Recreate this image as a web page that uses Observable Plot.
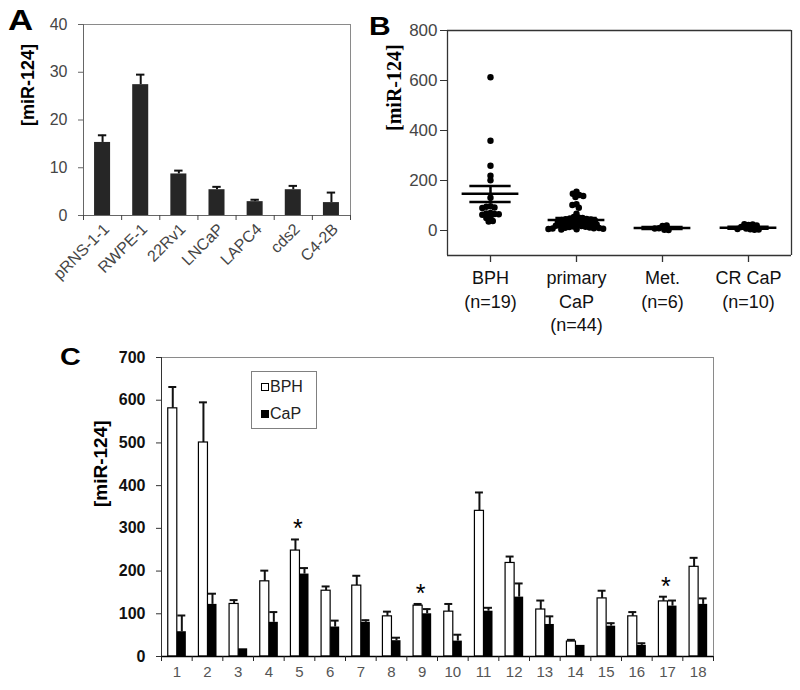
<!DOCTYPE html>
<html><head><meta charset="utf-8">
<script src="https://cdn.jsdelivr.net/npm/d3@7"></script>
<script src="https://cdn.jsdelivr.net/npm/@observablehq/plot@0.6"></script>
<style>
body{margin:0;background:#fff;}
#root{position:relative;width:800px;height:690px;font-family:Arial,"Liberation Sans",sans-serif;overflow:hidden;}
.panel{position:absolute;}
.letter{position:absolute;font-weight:bold;line-height:1;color:#000;transform:scaleX(1.2);transform-origin:left top;}
#legend{position:absolute;left:251px;top:371px;width:64px;height:56px;border:1px solid #808080;background:#fff;font-size:16px;color:#222;}
#legend .row{position:absolute;left:9px;height:18px;line-height:18px;white-space:nowrap;}
#legend .sq{display:inline-block;width:6px;height:6px;border:1px solid #000;margin-right:1px;vertical-align:1px;}
</style></head><body><div id="root"></div>
<script>
const FONT = 'Arial, "Liberation Sans", sans-serif';

// ---------- Panel A ----------
const cellLines = ["pRNS-1-1", "RWPE-1", "22Rv1", "LNCaP", "LAPC4", "cds2", "C4-2B"];
const cellValues = [15.3, 27.4, 8.7, 5.4, 2.9, 5.4, 2.7];
const cellErrTop = [16.8, 29.5, 9.4, 6.0, 3.3, 6.2, 4.8];
const aTicks = [0, 10, 20, 30, 40];

// ---------- Panel B ----------
const groups = ["BPH", "primary CaP", "Met.", "CR CaP"];
const groupLabels = ["BPH\n(n=19)", "primary\nCaP\n(n=44)", "Met.\n(n=6)", "CR CaP\n(n=10)"];
const bphValues = [613, 359, 259, 219, 201, 131, 97, 95, 92, 90, 70, 68, 66, 65, 63, 52, 50, 38, 36];
const primaryValues = [155, 147, 142, 138, 134, 105, 102, 91, 67,
  54, 52, 50, 48, 46, 45, 44, 42, 40, 38, 36, 35, 33, 31, 30, 28, 27, 25, 24, 22,
  20, 19, 18, 16, 15, 14, 12, 11, 10, 9, 8, 7, 6, 5, 4];
const metValues = [18, 9, 3, 2, 8, 20];
const crValues = [22, 25, 24, 14, 8, 5, 3, 4, 6, 20];
const groupMeans = [147, 42, 10, 11];
const groupSemLow = [114, 34, 6, 7];
const groupSemHigh = [178, 50, 14, 15];
const bTicks = [0, 200, 400, 600, 800];

// ---------- Panel C ----------
const pairNumbers = [1, 2, 3, 4, 5, 6, 7, 8, 9, 10, 11, 12, 13, 14, 15, 16, 17, 18];
const bphC = [581, 501, 123, 176, 248, 154, 166, 94, 119, 105, 341, 219, 110, 35, 136, 94, 129, 210];
const bphCErr = [631, 595, 132, 201, 274, 164, 189, 105, 123, 123, 384, 234, 131, 39, 154, 104, 140, 231];
const capC = [58, 122, 18, 80, 193, 69, 80, 37, 100, 36, 106, 139, 75, 26, 71, 26, 118, 122];
const capCErr = [96, 147, null, 104, 207, 84, 85, 44, 111, 51, 114, 171, 94, null, 78, 31, 131, 136];
const starPairs = [5, 9, 17];
const cTicks = [0, 100, 200, 300, 400, 500, 600, 700];

const root = document.getElementById("root");
function place(el, left, top) {
  const w = document.createElement("div");
  w.className = "panel"; w.style.left = left + "px"; w.style.top = top + "px";
  w.appendChild(el); root.appendChild(w);
}
function letter(t, left, top, size) {
  const d = document.createElement("div");
  d.className = "letter"; d.textContent = t;
  d.style.left = left + "px"; d.style.top = top + "px"; d.style.fontSize = size + "px";
  root.appendChild(d);
}

// Panel C plot (placed first so panels A/B, which may overlap it, stay on top)
const cRows = pairNumbers.map((n, i) => ({n, i, b: bphC[i], be: bphCErr[i], c: capC[i], ce: capCErr[i]}));
const stars = cRows.filter(d => starPairs.includes(d.n));
const plotC = Plot.plot({
  width: 800, height: 360, marginLeft: 161, marginRight: 87, marginTop: 27, marginBottom: 34,
  style: {fontFamily: FONT, background: "transparent"},
  x: {domain: [0, 18], axis: null},
  y: {domain: [0, 700], axis: null},
  marks: [
    Plot.ruleY([700], {stroke: "#8a8a8a"}),
    Plot.ruleX([18], {stroke: "#8a8a8a"}),
    Plot.ruleX(cRows, {x: d => d.i + 0.3675, y1: "b", y2: "be", stroke: "#111", strokeWidth: 2}),
    Plot.ruleY(cRows, {y: "be", x1: d => d.i + 0.3675 - 0.13, x2: d => d.i + 0.3675 + 0.13, stroke: "#111", strokeWidth: 2}),
    Plot.ruleX(cRows.filter(d => d.ce != null), {x: d => d.i + 0.6625, y1: "c", y2: "ce", stroke: "#111", strokeWidth: 2}),
    Plot.ruleY(cRows.filter(d => d.ce != null), {y: "ce", x1: d => d.i + 0.6625 - 0.13, x2: d => d.i + 0.6625 + 0.13, stroke: "#111", strokeWidth: 2}),
    Plot.rectY(cRows, {x1: d => d.i + 0.22, x2: d => d.i + 0.515, y1: 0, y2: "b", fill: "#fff", stroke: "#000", strokeWidth: 1.2}),
    Plot.rectY(cRows, {x1: d => d.i + 0.515, x2: d => d.i + 0.81, y1: 0, y2: "c", fill: "#000"}),
    Plot.ruleX([0], {stroke: "#333"}),
    Plot.ruleY([0], {stroke: "#000", strokeWidth: 1.3}),
    Plot.axisY({ticks: cTicks, tickSize: 5, tickPadding: 11, fontSize: 16, fontWeight: "bold", fill: "#111", stroke: "#333", label: null}),
    Plot.axisX({ticks: d3.range(0, 19), tickSize: 5, tickFormat: () => "", stroke: "#222", label: null}),
    Plot.text(cRows, {x: d => d.i + 0.5, frameAnchor: "bottom", text: d => String(d.n), dy: 20, fontSize: 15, fill: "#555"}),
    Plot.text(stars, {x: d => d.i + 0.45, y: "be", text: () => "*", dy: -10, fontSize: 25, fill: "#000"}),
    Plot.text(["[miR-124]"], {frameAnchor: "left", dx: -61, dy: 0, rotate: -90, fontWeight: "bold", fontSize: 19, fill: "#000"})
  ]
});
place(plotC, 0, 330);

// Panel A plot
const aData = cellLines.map((c, i) => ({c, i, v: cellValues[i], e: cellErrTop[i]}));
const plotA = Plot.plot({
  width: 360, height: 330, marginLeft: 83, marginRight: 10, marginTop: 24, marginBottom: 115,
  style: {fontFamily: FONT, background: "transparent"},
  x: {domain: [0, 7], axis: null},
  y: {domain: [0, 40], axis: null},
  marks: [
    Plot.ruleY([40], {stroke: "#8a8a8a"}),
    Plot.ruleX([7], {stroke: "#8a8a8a"}),
    Plot.ruleX(aData, {x: d => d.i + 0.5, y1: "v", y2: "e", stroke: "#111", strokeWidth: 2}),
    Plot.ruleY(aData, {y: "e", x1: d => d.i + 0.5 - 0.11, x2: d => d.i + 0.5 + 0.11, stroke: "#111", strokeWidth: 2}),
    Plot.rectY(aData, {x1: d => d.i + 0.29, x2: d => d.i + 0.71, y1: 0, y2: "v", fill: "#262626"}),
    Plot.ruleX([0], {stroke: "#666"}),
    Plot.ruleY([0], {stroke: "#666"}),
    Plot.axisY({ticks: aTicks, tickSize: 5, tickPadding: 11, fontSize: 16, fill: "#454545", stroke: "#666", label: null}),
    Plot.axisX({ticks: d3.range(0, 8), tickSize: 5, tickFormat: () => "", stroke: "#444", label: null}),
    Plot.text(aData, {x: d => d.i + 0.5, y: () => 0, text: "c", rotate: -45, textAnchor: "end", dx: 4, dy: 11, fontSize: 16, fill: "#454545"}),
    Plot.text(["[miR-124]"], {frameAnchor: "left", dx: -55, dy: 6, rotate: -90, fontWeight: "bold", fontSize: 18, fill: "#000"})
  ]
});
place(plotA, 0, 0);

// Panel B plot
const bDots = [].concat(
  bphValues.map(v => ({g: groups[0], v})),
  primaryValues.map(v => ({g: groups[1], v})),
  metValues.map(v => ({g: groups[2], v})),
  crValues.map(v => ({g: groups[3], v}))
);
const bStats = groups.map((g, i) => ({g, m: groupMeans[i], lo: groupSemLow[i], hi: groupSemHigh[i]}));
const plotB = Plot.plot({
  width: 440, height: 345, marginLeft: 85, marginRight: 8, marginTop: 30, marginBottom: 90,
  style: {fontFamily: FONT, background: "transparent"},
  fx: {domain: groups, padding: 0, axis: null},
  x: {domain: [-1, 1], axis: null},
  y: {domain: [-100, 800], axis: null},
  marks: [
    Plot.ruleY([800], {stroke: "#333", strokeWidth: 1.3}),
    Plot.ruleY([-100], {stroke: "#333", strokeWidth: 1.3}),
    Plot.ruleX([groups[0]], {fx: d => d, x: () => -1, stroke: "#333", strokeWidth: 1.3}),
    Plot.ruleX([groups[3]], {fx: d => d, x: () => 1, stroke: "#333", strokeWidth: 1.3}),
    Plot.ruleX(groups, {fx: d => d, x: () => 0, y1: () => -100, y2: () => -128, stroke: "#333", strokeWidth: 1.3, clip: false}),
    Plot.axisY({ticks: bTicks, tickSize: 7, tickPadding: 3, fontSize: 17, fill: "#454545", stroke: "#333", label: null}),
    Plot.dot(bDots, Plot.dodgeX({anchor: "middle", padding: -2.2, fx: "g", y: "v", r: 3.2, fill: "#000"})),
    Plot.ruleY(bStats, {fx: "g", y: "m", x1: () => -0.66, x2: () => 0.66, stroke: "#000", strokeWidth: 2.5}),
    Plot.ruleY(bStats, {fx: "g", y: "hi", x1: () => -0.48, x2: () => 0.48, stroke: "#000", strokeWidth: 2.5}),
    Plot.ruleY(bStats, {fx: "g", y: "lo", x1: () => -0.48, x2: () => 0.48, stroke: "#000", strokeWidth: 2.5}),
    Plot.ruleX(bStats, {fx: "g", x: () => 0, y1: "lo", y2: "hi", stroke: "#000", strokeWidth: 2.5}),
    Plot.text(groups, {fx: d => d, frameAnchor: "bottom", text: (d, i) => groupLabels[i], lineAnchor: "top", dy: 12, fontSize: 18, lineHeight: 1.3, fill: "#111"}),
    Plot.text(["[miR-124]"], {frameAnchor: "left", facetAnchor: "left", dx: -53, dy: -12, rotate: -90, fontWeight: "bold", fontSize: 20, fontFamily: '"Liberation Serif", "Times New Roman", serif', fill: "#000"})
  ]
});
place(plotB, 360, 0);

// Legend for panel C
const legend = document.createElement("div");
legend.id = "legend";
legend.innerHTML = '<div class="row" style="top:6px"><span class="sq" style="background:#fff"></span>BPH</div>' +
                   '<div class="row" style="top:33px"><span class="sq" style="background:#000"></span>CaP</div>';
root.appendChild(legend);

// Panel letters
letter("A", 8, 6, 29);
letter("B", 369, 14, 25);
letter("C", 60, 345, 24);
</script></body></html>
